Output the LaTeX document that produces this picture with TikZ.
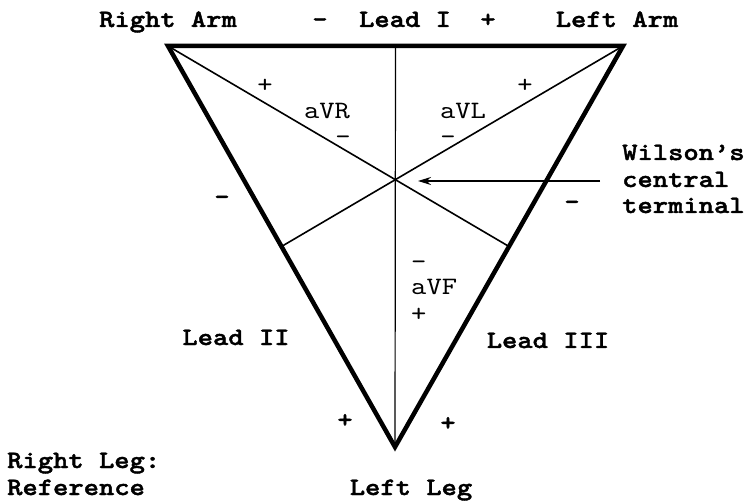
\documentclass[tikz,border=0pt]{standalone}
\usepackage{fontspec}
\newfontfamily\courreg{lmmono10-regular}[Extension=.otf, FakeStretch=1.166]
\newfontfamily\courbold{lmmonolt10-bold}[Extension=.otf, FakeStretch=1.166, FakeBold=1.6]
\usetikzlibrary{arrows.meta,calc}
\tikzset{
  lbl/.style={font=\fontsize{25}{30}\selectfont\courbold, inner sep=0pt, anchor=base},
  sml/.style={font=\fontsize{25}{30}\selectfont\courreg, inner sep=0pt, anchor=base},
  edge/.style={line width=4.5pt, line join=miter},
  median/.style={line width=1.6pt},
  axis/.style={line width=1.2pt},
  pointer/.style={line width=1.6pt, -{Stealth[length=13pt,width=8pt]}}
}
\begin{document}
\begin{tikzpicture}[x=1pt,y=-1pt]
\useasboundingbox (0,0) rectangle (749,502);
% vertices
\coordinate (RA) at (168,46);
\coordinate (LA) at (623,46);
\coordinate (LL) at (395,447);
\coordinate (mTop) at ($(RA)!0.5!(LA)$);
\coordinate (mRight) at ($(LA)!0.5!(LL)$);
\coordinate (mLeft) at ($(RA)!0.5!(LL)$);
\coordinate (wct) at (418,181);
\coordinate (wstart) at (600,181);
% medians and axis
\draw[median] (RA) -- (mRight);
\draw[median] (LA) -- (mLeft);
\draw[axis] (mTop) -- (LL);
% triangle
\draw[edge] (RA) -- (LA) -- (LL) -- cycle;
% arrow
\draw[pointer] (wstart) -- (wct);
% top labels
\node[lbl] (ra) at (168,27) {Right Arm};
\node[lbl] (m1) at (320,27) {-};
\node[lbl] (l1) at (405,27) {Lead I};
\node[lbl] (p1) at (488,27) {+};
\node[lbl] (la) at (617,27) {Left Arm};
% augmented leads
\node[sml] (pr) at (265,92.5) {+};
\node[sml] (avr) at (327,119) {aVR};
\node[sml] (mr) at (343,144.5) {-};
\node[sml] (avl) at (463,119) {aVL};
\node[sml] (ml) at (448,144.5) {-};
\node[sml] (pl) at (525,92.5) {+};
\node[sml,anchor=base west] (mf) at (411,269.5) {-};
\node[sml,anchor=base west] (avf) at (411,295) {aVF};
\node[sml,anchor=base west] (pf) at (411,322) {+};
% side signs
\node[lbl] (m2) at (222,204.5) {-};
\node[lbl] (m3) at (572,209.5) {-};
\node[lbl] (p2) at (345,427.5) {+};
\node[lbl] (p3) at (448,430.5) {+};
% lead labels
\node[lbl] (l2) at (236,345) {Lead II};
\node[lbl] (l3) at (548,348) {Lead III};
% Wilson
\node[lbl,anchor=base west] (w1) at (622,160) {Wilson’s};
\node[lbl,anchor=base west] (w2) at (622,187) {central};
\node[lbl,anchor=base west] (w3) at (622,213) {terminal};
% legs
\node[lbl,anchor=base west] (rl1) at (7,468) {Right Leg:};
\node[lbl,anchor=base west] (rl2) at (7,495) {Reference};
\node[lbl] (ll) at (411,495) {Left Leg};
\end{tikzpicture}
\end{document}
